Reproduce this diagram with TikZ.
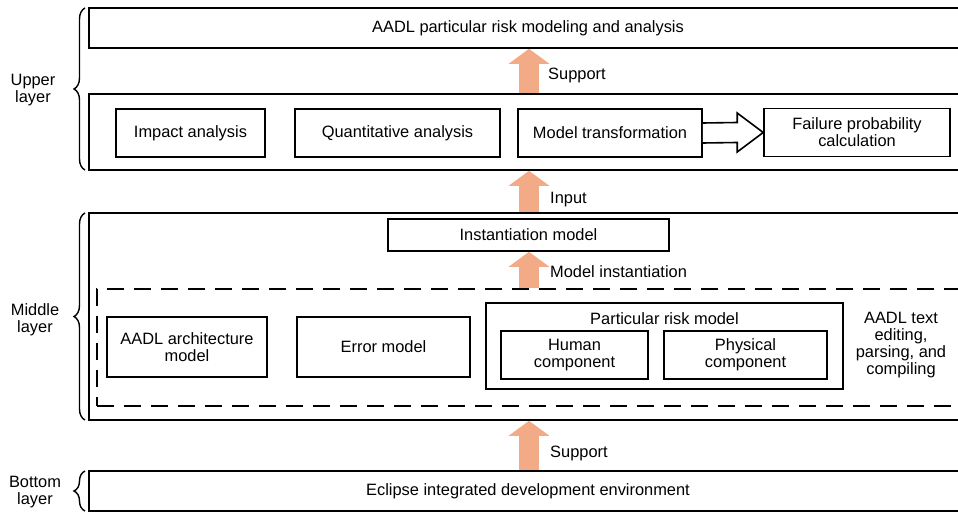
\documentclass[tikz,border=0pt]{standalone}
\usepackage{fontspec}
\setmainfont{Liberation Sans}
\usepackage{xcolor}
\usepackage{tikz}
\usetikzlibrary{arrows.meta,positioning,calc,decorations.pathreplacing}
\definecolor{arrowpeach}{RGB}{243,171,135}

\begin{document}
\begin{tikzpicture}[
    x=1pt, y=-1pt,
    txt/.style={font=\fontsize{16.4}{17}\selectfont, align=center, inner sep=0pt},
    layerbox/.style={draw, line width=1.6pt, inner sep=0pt},
    itembox/.style={draw, line width=1.6pt, inner sep=2pt, align=center,
        font=\fontsize{16.4}{17}\selectfont},
    dashbox/.style={draw, line width=1.6pt, dash pattern=on 17pt off 10pt},
    fatarr/.style={arrowpeach, line width=20pt,
        -{Triangle[width=40pt,length=15pt]}},
    hollowarr/.style={draw, fill=white, line width=1.6pt, line join=miter},
    layerbrace/.style={decorate, decoration={brace, amplitude=11pt},
        line width=1.4pt},
]
\useasboundingbox (0,0) rectangle (958,513);
\clip (0,0) rectangle (958,513);
\fill[white] (0,0) rectangle (958,513);

% === UPPER LAYER ===
\node[layerbox, minimum width=878, minimum height=40] (top) at (528,28) {};
\node[txt] (toplbl) at (top.center) {AADL particular risk modeling and analysis};
\node[layerbox, minimum width=878, minimum height=76] (upper) at (528,132) {};
\node[itembox, minimum width=149, minimum height=48] (impact) at (190.5,133) {Impact analysis};
\node[itembox, minimum width=205, minimum height=48] (quant) at (397.5,133) {Quantitative analysis};
\node[itembox, minimum width=184, minimum height=48] (trans) at (610,133) {Model transformation};
\node[itembox, minimum width=186, minimum height=48] (fail) at (857,132.5) {Failure probability\\calculation};

% hollow arrow trans -> fail
\draw[hollowarr] ([yshift=10]trans.east) -- ([xshift=-26,yshift=10]fail.west)
    -- ([xshift=-26,yshift=19.5]fail.west) -- (fail.west)
    -- ([xshift=-26,yshift=-19.5]fail.west) -- ([xshift=-26,yshift=-10]fail.west)
    -- ([yshift=-10]trans.east);

% === MIDDLE LAYER ===
\node[layerbox, minimum width=878, minimum height=207] (middle) at (528,316.5) {};
\node[itembox, minimum width=281, minimum height=32] (inst) at (528.5,235) {Instantiation model};
\node[dashbox, minimum width=900, minimum height=117] (edit) at (547,347.5) {};
\node[itembox, minimum width=160, minimum height=60] (arch) at (187,347) {AADL architecture\\model};
\node[itembox, minimum width=173, minimum height=60] (error) at (383.5,347) {Error model};
\node[itembox, minimum width=357, minimum height=86] (prm) at (664.5,346) {};
\node[txt] (prmlbl) at (664.5,319) {Particular risk model};
\node[itembox, minimum width=147, minimum height=48] (human) at (574.5,355) {Human\\component};
\node[itembox, minimum width=163, minimum height=48] (phys) at (745.5,355) {Physical\\component};
\node[txt] (editlbl) at (901,345) {AADL text\\editing,\\parsing, and\\compiling};

% === BOTTOM LAYER ===
\node[layerbox, minimum width=878, minimum height=40] (bottom) at (528,491) {};
\node[txt] (bottomlbl) at (bottom.center) {Eclipse integrated development environment};

% === ARROWS ===
\coordinate (ax) at (529,0);
\draw[fatarr] (upper.north -| ax) -- (top.south -| ax);
\node[txt, anchor=west] (sup1) at (548,75) {Support};
\draw[fatarr] (middle.north -| ax) -- (upper.south -| ax);
\node[txt, anchor=west] (inp) at (550,200) {Input};
\draw[fatarr] (edit.north -| ax) -- (inst.south -| ax);
\node[txt, anchor=west] (minst) at (550,272) {Model instantiation};
\draw[fatarr] (bottom.north -| ax) -- (middle.south -| ax);
\node[txt, anchor=west] (sup2) at (550,453) {Support};

% === LAYER BRACES ===
\draw[layerbrace] (85,170) -- (85,8);
\node[txt] (upperlbl) at (33,90) {Upper\\layer};
\draw[layerbrace] (85,420) -- (85,213);
\node[txt] (middlelbl) at (35,320) {Middle\\layer};
\draw[layerbrace] (85,511) -- (85,471);
\node[txt] (bottomlayer) at (35,492) {Bottom\\layer};

\end{tikzpicture}
\end{document}
